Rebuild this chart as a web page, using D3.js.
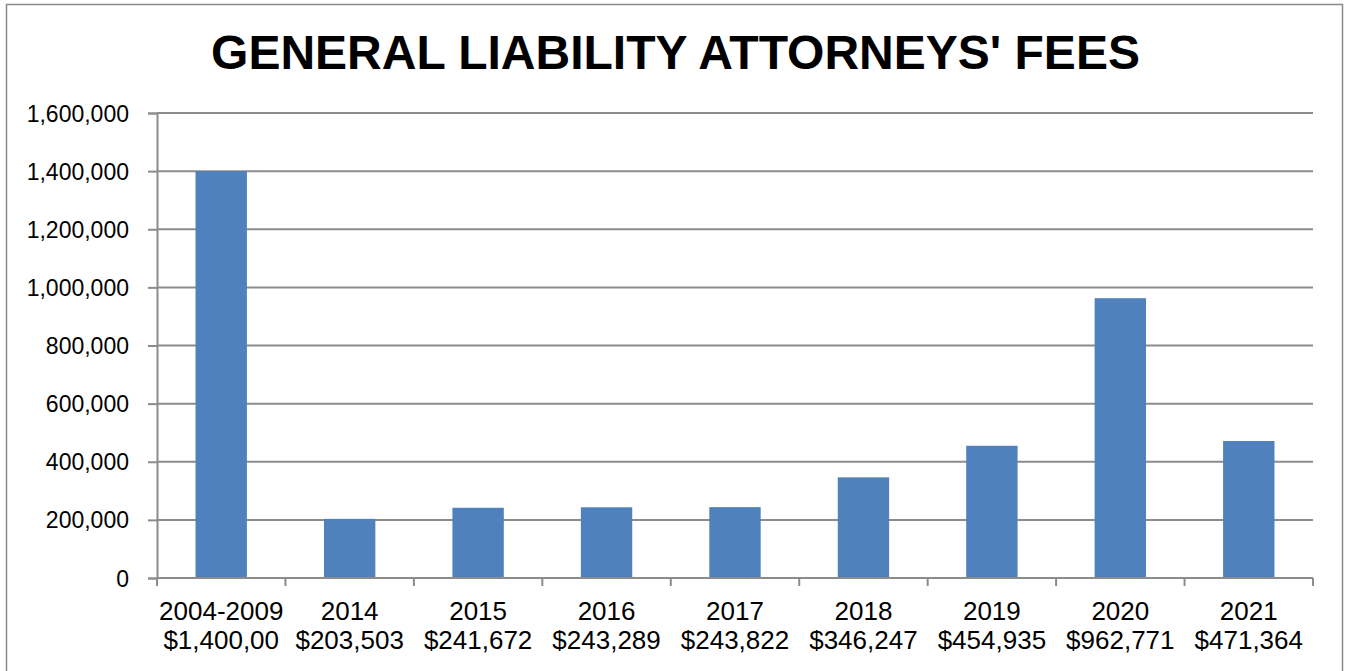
<!DOCTYPE html>
<html>
<head>
<meta charset="utf-8">
<script src="https://cdn.jsdelivr.net/npm/d3@7"></script>
<style>
  body { margin: 0; background: #fff; }
  svg text { font-family: "Liberation Sans", Arial, sans-serif; fill: #000; }
</style>
</head>
<body>
<div id="chart"></div>
<script>
var years = ['2004-2009', '2014', '2015', '2016', '2017', '2018', '2019', '2020', '2021'];
var amountLabels = ['$1,400,00', '$203,503', '$241,672', '$243,289', '$243,822', '$346,247', '$454,935', '$962,771', '$471,364'];
var fees = [1400000, 203503, 241672, 243289, 243822, 346247, 454935, 962771, 471364];
var yTicks = [0, 200000, 400000, 600000, 800000, 1000000, 1200000, 1400000, 1600000];

var width = 1349, height = 671;
var plotLeft = 157, plotRight = 1313, plotTop = 113, plotBottom = 578;

var svg = d3.select('#chart').append('svg')
    .attr('width', width)
    .attr('height', height);

// chart border
svg.append('rect')
    .attr('x', 6.5).attr('y', 4.5)
    .attr('width', 1336).attr('height', 680)
    .attr('fill', 'none')
    .attr('stroke', '#8a8a8a')
    .attr('stroke-width', 1.5);

svg.append('text')
    .attr('x', 675.5)
    .attr('y', 69)
    .attr('text-anchor', 'middle')
    .style('font-size', '48px')
    .style('font-weight', 'bold')
    .text("GENERAL LIABILITY ATTORNEYS' FEES");

var x = d3.scaleBand()
    .domain(years)
    .range([plotLeft, plotRight])
    .paddingInner(0.6)
    .paddingOuter(0.3);

var y = d3.scaleLinear()
    .domain([0, 1600000])
    .range([plotBottom, plotTop]);

//gridlines
svg.append('g').selectAll('line')
    .data(yTicks.filter(function(d){ return d > 0; }))
    .enter()
    .append('line')
    .attr('x1', plotLeft).attr('x2', plotRight)
    .attr('y1', function(d){ return y(d); })
    .attr('y2', function(d){ return y(d); })
    .attr('stroke', '#8c8c8c')
    .attr('stroke-width', 2);

//bars
svg.append('g').selectAll('rect')
    .data(fees)
    .enter()
    .append('rect')
    .attr('x', function(d, i){ return x(years[i]); })
    .attr('width', x.bandwidth())
    .attr('y', function(d){ return y(d); })
    .attr('height', function(d){ return plotBottom - y(d); })
    .attr('fill', '#4f81bd');

//y axis
var yAxis = svg.append('g')
    .attr('transform', 'translate(' + plotLeft + ',0)')
    .call(d3.axisLeft(y).tickValues(yTicks).tickSize(9).tickPadding(19).tickFormat(d3.format(',')));
yAxis.select('.domain').attr('stroke', '#8c8c8c').attr('stroke-width', 2);
yAxis.selectAll('.tick line').attr('stroke', '#8c8c8c').attr('stroke-width', 2);
yAxis.selectAll('.tick text')
    .style('font-size', '23px')
    .style('font-family', '"Liberation Sans", Arial, sans-serif')
    .attr('dy', '0.35em');

//x axis line and boundary ticks
var boundaries = d3.range(years.length + 1).map(function(i){ return plotLeft + i * (plotRight - plotLeft) / years.length; });
svg.append('line')
    .attr('x1', plotLeft).attr('x2', plotRight)
    .attr('y1', plotBottom).attr('y2', plotBottom)
    .attr('stroke', '#8c8c8c').attr('stroke-width', 2);
svg.append('g').selectAll('line')
    .data(boundaries)
    .enter()
    .append('line')
    .attr('x1', function(d){ return d; }).attr('x2', function(d){ return d; })
    .attr('y1', plotBottom).attr('y2', plotBottom + 8)
    .attr('stroke', '#8c8c8c').attr('stroke-width', 2);

//category labels
var labels = svg.append('g').selectAll('text')
    .data(years)
    .enter()
    .append('text')
    .attr('text-anchor', 'middle')
    .style('font-size', '26px');
labels.append('tspan')
    .attr('x', function(d){ return x(d) + x.bandwidth() / 2; })
    .attr('y', 620)
    .text(function(d){ return d; });
labels.append('tspan')
    .attr('x', function(d){ return x(d) + x.bandwidth() / 2; })
    .attr('y', 649)
    .text(function(d, i){ return amountLabels[i]; });
</script>
</body>
</html>
